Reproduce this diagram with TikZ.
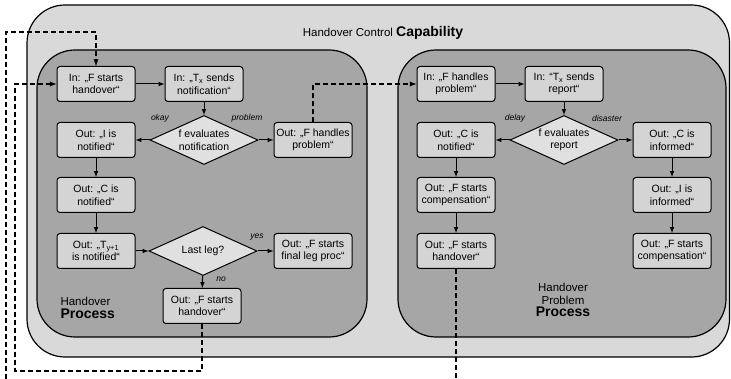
\documentclass[tikz,border=0pt]{standalone}
\usepackage{fontspec}
\setmainfont{Liberation Sans}
\usetikzlibrary{shapes.geometric}

\begin{document}
\begin{tikzpicture}[
  x=1pt, y=-1pt,
  every node/.style = {align=center, font=\fontsize{10.5}{12.5}\selectfont},
  box/.style = {shape=rectangle, rounded corners=3pt, draw, line width=1pt, fill=black!17,
                minimum width=78pt, minimum height=35pt, inner sep=1pt},
  decide/.style = {shape=diamond, draw, line width=1pt, fill=black!12, aspect=2.2,
                   minimum width=108pt, minimum height=49pt, inner sep=0pt},
  flow/.style = {-latex, line width=1pt},
  jump/.style = {line width=1.3pt, dash pattern=on 5pt off 3pt},
  tag/.style = {font=\fontsize{8.5}{9}\selectfont\itshape},
  area/.style = {draw, line width=1.2pt, rounded corners=38pt}
]
\useasboundingbox (0,0) rectangle (731,379);
\fill[white] (0,0) rectangle (731,379);
\draw[area, fill=black!15] (27,5) rectangle (729.5,357);
\draw[area, fill=black!35] (37,50) rectangle (367,337);
\draw[area, fill=black!35] (398,50) rectangle (726,337);

\node (capTitle) at (383,33) {\fontsize{11.5}{13}\selectfont Handover Control {\fontsize{14}{16}\selectfont\bfseries Capability}};
\node[anchor=west, align=left] (hoLabel) at (57,308) {\fontsize{11.5}{14}\selectfont Handover\\{\fontsize{14}{16}\selectfont\bfseries Process}};
\node (hpLabel) at (563,300) {\fontsize{11.5}{14}\selectfont Handover\\\fontsize{11.5}{14}\selectfont Problem\\{\fontsize{14}{16}\selectfont\bfseries Process}};

\node[box] (hoStart) at (96,84) {In: „F starts\\handover“};
\node[box] (txNote) at (204,84) {In: „T\textsubscript{x} sends\\notification“};
\node[decide] (evalNote) at (204,140) {f evaluates\\notification};
\node[box] (iNotified) at (96,140) {Out: „I is\\notified“};
\node[box] (fProblem) at (313,140) {Out: „F handles\\problem“};
\node[box] (cNotified) at (96,195) {Out: „C is\\notified“};
\node[box] (tNext) at (96,251) {Out: „T\textsubscript{y+1}\\is notified“};
\node[decide] (lastLeg) at (203,251) {Last leg?};
\node[box] (finalLeg) at (313,251) {Out: „F starts\\final leg proc“};
\node[box] (hoOut) at (202,306) {Out: „F starts\\handover“};

\node[box] (phStart) at (456,84) {In: „F handles\\problem“};
\node[box] (txReport) at (564,84) {In: “T\textsubscript{x} sends\\report“};
\node[decide] (evalReport) at (564,140) {f evaluates\\report};
\node[box] (cNotified2) at (456,140) {Out: „C is\\notified“};
\node[box] (cInformed) at (672,140) {Out: „C is\\informed“};
\node[box] (fComp) at (456,195) {Out: „F starts\\compensation“};
\node[box] (hoOut2) at (456,251) {Out: „F starts\\handover“};
\node[box] (iInformed) at (672,195) {Out: „I is\\informed“};
\node[box] (fComp2) at (672,251) {Out: „F starts\\compensation“};

\node[tag] (okayTag) at (160,118) {okay};
\node[tag] (problemTag) at (247,118) {problem};
\node[tag] (yesTag) at (257,237) {yes};
\node[tag] (noTag) at (221,279) {no};
\node[tag] (delayTag) at (515,118) {delay};
\node[tag] (disasterTag) at (607,118) {disaster};

\draw[flow] (hoStart) -- (txNote);
\draw[flow] (txNote) -- (evalNote);
\draw[flow] (evalNote) -- (iNotified);
\draw[flow] (evalNote) -- (fProblem);
\draw[flow] (iNotified) -- (cNotified);
\draw[flow] (cNotified) -- (tNext);
\draw[flow] (tNext) -- (lastLeg);
\draw[flow] (lastLeg) -- (finalLeg);
\draw[flow] (lastLeg) -- (hoOut);

\draw[flow] (phStart) -- (txReport);
\draw[flow] (txReport) -- (evalReport);
\draw[flow] (evalReport) -- (cNotified2);
\draw[flow] (evalReport) -- (cInformed);
\draw[flow] (cNotified2) -- (fComp);
\draw[flow] (fComp) -- (hoOut2);
\draw[flow] (cInformed) -- (iInformed);
\draw[flow] (iInformed) -- (fComp2);

\coordinate (loopIn) at (6,379);
\coordinate (topTurn) at (96,32);
\coordinate (exitDown) at (456,379);
\draw[jump, -latex] (hoOut.south) |- (15,371) |- (hoStart.west);
\draw[jump, -latex] (loopIn) |- (topTurn) -- (hoStart.north);
\draw[jump, -latex] (fProblem.north) |- (phStart.west);
\draw[jump] (hoOut2.south) -- (exitDown);
\end{tikzpicture}
\end{document}
